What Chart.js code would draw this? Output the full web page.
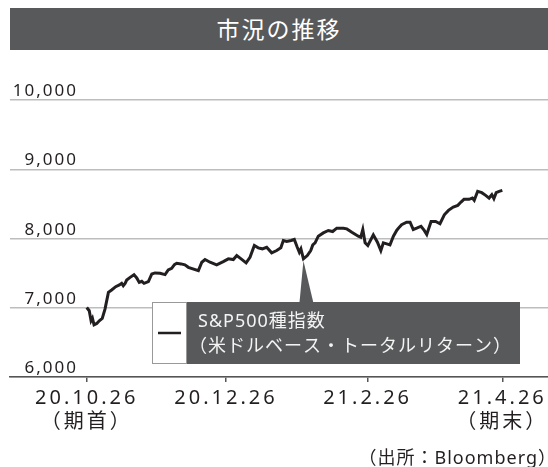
<!DOCTYPE html>
<html>
<head>
<meta charset="utf-8">
<script src="https://cdn.jsdelivr.net/npm/chart.js@4"></script>
<style>
  html, body { margin:0; padding:0; background:#fff; }
  #wrap { position:relative; width:548px; height:467px; overflow:hidden;
          font-family:"Noto Sans","Noto Sans CJK JP",sans-serif; color:#231f20; }
  #title { position:absolute; left:10px; top:8px; width:538px; height:42px;
           background:#58595b; color:#fff; font-size:23px; line-height:42px;
           text-align:center; letter-spacing:2px; }
  #source { position:absolute; right:-9px; top:446px; font-size:18px;
            line-height:22px; letter-spacing:1px; }
  canvas { position:absolute; left:0; top:0; }
</style>
</head>
<body>
<div id="wrap">
  <canvas id="chart" width="548" height="467"></canvas>
  <div id="title">市況の推移</div>
  <div id="source">（出所：Bloomberg）</div>
</div>

<script>

// days since 20.10.26 and index level (S&P500, USD total return)
const days = [0,1.1,1.9,2.5,3.2,4.4,5.5,6.8,8.0,9.5,10.9,12.7,14.3,15.3,16.0,16.8,17.5,19.0,20.7,21.9,
    23.0,24.1,25.1,27.0,28.5,29.9,32.1,34.3,35.7,37.2,38.4,39.4,41.3,43.0,44.5,48.9,50.4,51.8,54.0,56.9,
    59.8,62.0,64.2,65.7,67.6,69.8,71.5,73.4,75.1,76.9,78.8,81.0,83.2,85.0,86.1,87.6,89.5,90.9,92.2,93.1,
    93.8,94.9,96.6,98.1,99.0,100.0,101.4,103.6,105.8,107.7,109.5,112.4,113.9,116.1,118.9,120.0,120.9,121.9,123.1,125.5,
    127.3,128.8,129.9,131.4,132.8,134.3,135.8,136.9,137.9,140.1,141.6,143.0,144.5,146.4,147.8,148.9,150.8,152.8,154.7,156.6,
    158.4,160.5,162.5,163.9,165.2,167.4,168.9,169.7,171.2,173.0,174.7,176.2,177.4,178.3,179.3,180.6,182]

const values = [7004,6957,6812,6850,6754,6773,6812,6845,6981,7222,7256,7304,7329,7352,7319,7352,7400,7439,7478,7430,
    7366,7381,7352,7377,7488,7503,7497,7478,7546,7570,7623,7642,7633,7619,7584,7536,7657,7696,7657,7619,
    7667,7706,7696,7754,7706,7648,7729,7899,7865,7851,7874,7793,7826,7865,7971,7957,7971,7986,7874,7802,
    7851,7706,7754,7826,7908,7937,8033,8081,8116,8101,8149,8149,8139,8091,8033,8019,8130,7937,7899,8053,
    7946,7826,7937,7922,7908,8033,8120,8164,8199,8236,8236,8130,8149,8177,8116,8058,8246,8246,8213,8343,
    8406,8454,8478,8526,8565,8565,8584,8551,8681,8662,8623,8584,8633,8575,8662,8681,8696]

const tickDays = [0,61,123,182]
const tickLabels = [["20.10.26","（期首）"],["20.12.26"],["21.2.26"],["21.4.26","（期末）"]]
const yTicks = [6000,7000,8000,9000,10000]

const seriesName = "S&P500種指数"
const seriesNote = "（米ドルベース・トータルリターン）"

const FONT = '"Noto Sans","Noto Sans CJK JP",sans-serif'
const DARK = "#58595b"

const points = days.map((d,i)=>({x:d,y:values[i]}))

// lowest point of the early-January dip, where the callout points
let pin = -1
days.forEach((d,i)=>{ if(d>90 && d<100 && (pin<0 || values[i]<values[pin])) pin=i })

const overlay = {
    id:"overlay",
    beforeDraw(chart){
        chart.ctx.letterSpacing = "3px"
    },
    afterDraw(chart){
        const {ctx, scales:{x, y}} = chart

        ctx.save()

        // y labels sit above their grid lines
        ctx.font = "17px " + FONT
        ctx.letterSpacing = "2px"
        ctx.fillStyle = "#231f20"
        ctx.textAlign = "right"
        ctx.textBaseline = "alphabetic"
        yTicks.forEach(v=>{
            ctx.fillText(v.toLocaleString("en-US"), 78, y.getPixelForValue(v) - 4)
        })

        // callout box
        const bx = 152, by = 302, bh = 62, sw = 34, bw = 368
        ctx.fillStyle = DARK
        ctx.fillRect(bx + sw, by, bw - sw, bh)

        const ax = x.getPixelForValue(days[pin])
        const ay = y.getPixelForValue(values[pin]) + 2
        ctx.beginPath()
        ctx.moveTo(ax - 4, by + 1)
        ctx.lineTo(ax, ay)
        ctx.lineTo(ax + 10, by + 1)
        ctx.closePath()
        ctx.fill()

        ctx.fillStyle = "#fff"
        ctx.fillRect(bx, by, sw, bh)
        ctx.strokeStyle = "#999"
        ctx.lineWidth = 1
        ctx.strokeRect(bx + 0.5, by + 0.5, sw, bh - 1)

        ctx.strokeStyle = "#231f20"
        ctx.lineWidth = 2.5
        ctx.beginPath()
        ctx.moveTo(bx + 6, by + 31)
        ctx.lineTo(bx + 29, by + 31)
        ctx.stroke()

        ctx.fillStyle = "#f4f4f4"
        ctx.font = "18px " + FONT
        ctx.letterSpacing = "1px"
        ctx.textAlign = "left"
        ctx.textBaseline = "middle"
        ctx.fillText(seriesName, 198, by + 20)
        ctx.fillText(seriesNote, 189, by + 45)

        ctx.restore()
    }
}

new Chart(document.getElementById("chart"),{
    type:"line",
    data:{
        datasets:[
            {
                data:points,
                borderColor:"#231f20",
                borderWidth:3,
                pointRadius:0,
                tension:0
            }
        ]
    },
    options:{
        responsive:false,
        animation:false,
        events:[],
        layout:{
            padding:{top:100,left:10,right:0,bottom:29}
        },
        plugins:{
            legend:{display:false},
            tooltip:{enabled:false}
        },
        scales:{
            x:{
                type:"linear",
                min:-33.6,
                max:202,
                afterBuildTicks:s=>{ s.ticks = tickDays.map(v=>({value:v})) },
                afterFit:s=>{ s.paddingLeft = 0; s.paddingRight = 0 },
                ticks:{
                    autoSkip:false,
                    maxRotation:0,
                    padding:4,
                    color:"#231f20",
                    font:{family:FONT,size:20,lineHeight:1.2},
                    callback:(v)=>tickLabels[tickDays.indexOf(v)]
                },
                grid:{
                    drawOnChartArea:false,
                    tickLength:5,
                    color:"#555",
                    lineWidth:1.5
                },
                border:{color:"#555",width:1.5}
            },
            y:{
                min:6000,
                max:10000,
                afterBuildTicks:s=>{ s.ticks = yTicks.map(v=>({value:v})) },
                ticks:{display:false},
                grid:{
                    drawTicks:false,
                    color:"#bdbdbd",
                    lineWidth:1.5
                },
                border:{display:false}
            }
        }
    },
    plugins:[overlay]
})

</script>
</body>
</html>
